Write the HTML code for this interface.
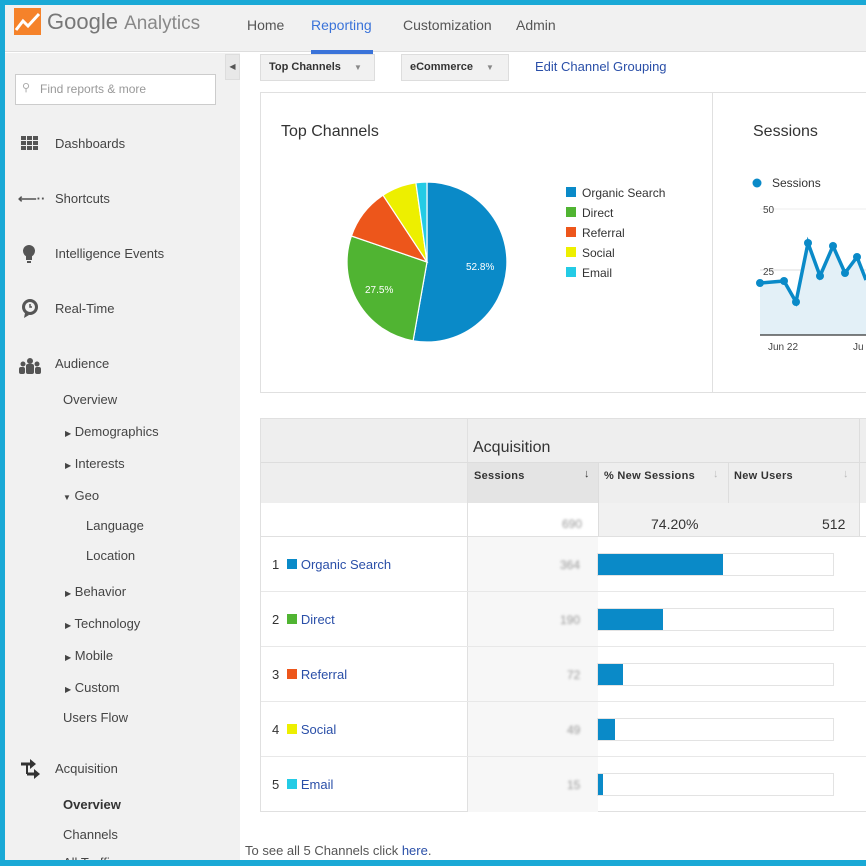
<!DOCTYPE html>
<html><head><meta charset="utf-8"><style>
*{margin:0;padding:0;box-sizing:border-box}
body{width:866px;height:866px;overflow:hidden;background:#1aa9d6;font-family:"Liberation Sans",Arial,sans-serif;position:relative}
.a{position:absolute;white-space:nowrap}
#frame{position:absolute;left:5px;top:5px;width:861px;height:855px;background:#fff;overflow:hidden}
.side{color:#444;font-size:13px}
.nav{font-size:14px;color:#555}
.lnk{color:#2a4fa8;font-size:13px}
.th{font-size:11px;font-weight:bold;color:#333;letter-spacing:.3px}
.blur{color:#999;font-size:12px;filter:blur(1.2px)}
</style></head><body>
<div id="frame">
<div class="a" style="left:0;top:0;width:861px;height:47px;background:#f1f1f1;border-bottom:1px solid #ddd"></div>
<svg class="a" style="left:9px;top:3px" width="27" height="27"><rect width="27" height="27" fill="#f5822a"/><polyline points="2,22 9,13 14,18 25,6" fill="none" stroke="#fff" stroke-width="3"/></svg>
<div class="a" style="left:42px;top:4px;font-size:22px;color:#777">Google <span style="font-size:19px;color:#888">Analytics</span></div>
<div class="a nav" style="left:242px;top:12px">Home</div>
<div class="a nav" style="left:306px;top:12px;color:#3a73d9">Reporting</div>
<div class="a" style="left:306px;top:45px;width:62px;height:4px;background:#3a73d9"></div>
<div class="a nav" style="left:398px;top:12px">Customization</div>
<div class="a nav" style="left:511px;top:12px">Admin</div>
<div class="a" style="left:0;top:48px;width:235px;height:810px;background:#f1f1f1"></div>
<div class="a" style="left:220px;top:49px;width:15px;height:26px;background:#e8e8e8;border:1px solid #ddd;font-size:8px;color:#555;text-align:center;line-height:24px">◀</div>
<div class="a" style="left:10px;top:69px;width:201px;height:31px;background:#fff;border:1px solid #ccc;font-size:12px;color:#999;line-height:29px;padding-left:24px">Find reports &amp; more</div>
<div class="a" style="left:17px;top:76px;font-size:11px;color:#aaa">⚲</div>
<svg class="a" style="left:16px;top:131px" width="17" height="15"><g fill="#555"><rect x="0" y="0" width="5" height="4"/><rect x="6" y="0" width="5" height="4"/><rect x="12" y="0" width="5" height="4"/><rect x="0" y="5" width="5" height="4"/><rect x="6" y="5" width="5" height="4"/><rect x="12" y="5" width="5" height="4"/><rect x="0" y="10" width="5" height="4"/><rect x="6" y="10" width="5" height="4"/><rect x="12" y="10" width="5" height="4"/></g></svg>
<div class="a side" style="left:50px;top:131px">Dashboards</div>
<div class="a side" style="left:13px;top:186px;font-weight:bold;color:#555">⟵··</div>
<div class="a side" style="left:50px;top:186px">Shortcuts</div>
<svg class="a" style="left:17px;top:239px" width="14" height="22"><circle cx="7" cy="7" r="6" fill="#555"/><rect x="4" y="12" width="6" height="4" fill="#555"/><rect x="5" y="17" width="4" height="2" fill="#555"/></svg>
<div class="a side" style="left:50px;top:241px">Intelligence Events</div>
<svg class="a" style="left:15px;top:293px" width="20" height="20"><circle cx="10" cy="9" r="8" fill="#555"/><circle cx="10" cy="9" r="5" fill="#f1f1f1"/><path d="M10 6v3h2" stroke="#555" fill="none" stroke-width="1.5"/><path d="M5 15l-1 5 5-3z" fill="#555"/></svg>
<div class="a side" style="left:50px;top:296px">Real-Time</div>
<svg class="a" style="left:14px;top:353px" width="22" height="16"><g fill="#555"><circle cx="11" cy="3" r="3"/><circle cx="4" cy="6" r="2.5"/><circle cx="18" cy="6" r="2.5"/><rect x="7" y="6" width="8" height="10" rx="2"/><rect x="0" y="9" width="6" height="7" rx="2"/><rect x="16" y="9" width="6" height="7" rx="2"/></g></svg>
<div class="a side" style="left:50px;top:351px">Audience</div>
<div class="a side" style="left:58px;top:387px">Overview</div>
<div class="a side" style="left:60px;top:419px"><span style="font-size:8px">▶</span> Demographics</div>
<div class="a side" style="left:60px;top:451px"><span style="font-size:8px">▶</span> Interests</div>
<div class="a side" style="left:58px;top:483px"><span style="font-size:8px">▼</span> Geo</div>
<div class="a side" style="left:81px;top:513px">Language</div>
<div class="a side" style="left:81px;top:543px">Location</div>
<div class="a side" style="left:60px;top:579px"><span style="font-size:8px">▶</span> Behavior</div>
<div class="a side" style="left:60px;top:611px"><span style="font-size:8px">▶</span> Technology</div>
<div class="a side" style="left:60px;top:643px"><span style="font-size:8px">▶</span> Mobile</div>
<div class="a side" style="left:60px;top:675px"><span style="font-size:8px">▶</span> Custom</div>
<div class="a side" style="left:58px;top:705px">Users Flow</div>
<svg class="a" style="left:14px;top:754px" width="22" height="22"><g stroke="#333" stroke-width="3" fill="#333"><line x1="2" y1="5" x2="12" y2="5"/><path d="M11 0l6 5-6 5z" stroke="none"/><line x1="8" y1="15" x2="16" y2="15"/><path d="M15 10l6 5-6 5z" stroke="none"/><line x1="8" y1="5" x2="8" y2="15" stroke-width="2"/></g></svg>
<div class="a side" style="left:50px;top:756px">Acquisition</div>
<div class="a side" style="left:58px;top:792px;font-weight:bold;color:#333">Overview</div>
<div class="a side" style="left:58px;top:822px">Channels</div>
<div class="a side" style="left:58px;top:850px">All Traffic</div>
<div class="a" style="left:255px;top:49px;width:115px;height:27px;background:#f1f1f1;border:1px solid #ddd;font-size:11px;font-weight:bold;color:#333;line-height:25px;padding-left:8px">Top Channels <span style="color:#888;font-size:8px;margin-left:10px">▼</span></div>
<div class="a" style="left:396px;top:49px;width:108px;height:27px;background:#f1f1f1;border:1px solid #ddd;font-size:11px;font-weight:bold;color:#333;line-height:25px;padding-left:8px">eCommerce <span style="color:#888;font-size:8px;margin-left:10px">▼</span></div>
<div class="a lnk" style="left:530px;top:54px">Edit Channel Grouping</div>
<div class="a" style="left:255px;top:87px;width:610px;height:301px;border:1px solid #e0e0e0"></div>
<div class="a" style="left:707px;top:87px;width:1px;height:301px;background:#e0e0e0"></div>
<div class="a" style="left:276px;top:118px;font-size:16px;color:#333">Top Channels</div>
<svg class="a" style="left:0;top:0" width="866" height="400">
<g stroke="#fff" stroke-width="1.2" transform="translate(-5,-5)">
<path d="M427,262 L427,182 A80,80 0 1,1 413.1,340.8 Z" fill="#0a8ac8"/>
<path d="M427,262 L413.1,340.8 A80,80 0 0,1 351.4,236 Z" fill="#50b432"/>
<path d="M427,262 L351.4,236 A80,80 0 0,1 383,195.2 Z" fill="#ed561b"/>
<path d="M427,262 L383,195.2 A80,80 0 0,1 415.9,182.8 Z" fill="#edef00"/>
<path d="M427,262 L415.9,182.8 A80,80 0 0,1 427,182 Z" fill="#24cbe5"/>
</g>
<text x="461" y="265" font-size="10" fill="#fff" font-family="Liberation Sans">52.8%</text>
<text x="360" y="288" font-size="10" fill="#fff" font-family="Liberation Sans">27.5%</text>
<line x1="755" y1="204" x2="861" y2="204" stroke="#eee"/>
<line x1="755" y1="265" x2="861" y2="265" stroke="#ddd"/>
<path d="M755,278 L779,276 L791,297 L803,238 L815,271 L828,241 L840,268 L852,252 L861,275 L861,330 L755,330Z" fill="#e3f0f7"/>
<polyline points="755,278 779,276 791,297 803,238 815,271 828,241 840,268 852,252 861,275" fill="none" stroke="#0a8ac8" stroke-width="3.5"/>
<g fill="#0a8ac8"><circle cx="755" cy="278" r="4"/><circle cx="779" cy="276" r="4"/><circle cx="791" cy="297" r="4"/><circle cx="803" cy="238" r="4"/><circle cx="815" cy="271" r="4"/><circle cx="828" cy="241" r="4"/><circle cx="840" cy="268" r="4"/><circle cx="852" cy="252" r="4"/><circle cx="752" cy="178" r="4.5"/></g>
<line x1="755" y1="330" x2="861" y2="330" stroke="#333" stroke-width="1.2"/>
<text x="758" y="208" font-size="10" fill="#444" font-family="Liberation Sans">50</text>
<text x="758" y="270" font-size="10" fill="#444" font-family="Liberation Sans">25</text>
<text x="763" y="345" font-size="10" fill="#444" font-family="Liberation Sans">Jun 22</text>
<text x="848" y="345" font-size="10" fill="#444" font-family="Liberation Sans">Ju</text>
</svg>
<div class="a" style="left:561px;top:178px;font-size:12px;color:#333;line-height:20px">
<div><span style="display:inline-block;width:10px;height:10px;background:#0a8ac8;margin-right:6px"></span>Organic Search</div>
<div><span style="display:inline-block;width:10px;height:10px;background:#50b432;margin-right:6px"></span>Direct</div>
<div><span style="display:inline-block;width:10px;height:10px;background:#ed561b;margin-right:6px"></span>Referral</div>
<div><span style="display:inline-block;width:10px;height:10px;background:#edef00;margin-right:6px"></span>Social</div>
<div><span style="display:inline-block;width:10px;height:10px;background:#24cbe5;margin-right:6px"></span>Email</div>
</div>
<div class="a" style="left:748px;top:118px;font-size:16px;color:#333">Sessions</div>
<div class="a" style="left:767px;top:171px;font-size:12px;color:#333">Sessions</div>
<div class="a" style="left:255px;top:413px;width:610px;height:394px;border:1px solid #e0e0e0"></div>
<div class="a" style="left:256px;top:414px;width:605px;height:84px;background:#eee"></div>
<div class="a" style="left:462px;top:414px;width:1px;height:393px;background:#e0e0e0"></div>
<div class="a" style="left:463px;top:458px;width:130px;height:40px;background:#e4e4e4"></div>
<div class="a" style="left:256px;top:457px;width:605px;height:1px;background:#ddd"></div>
<div class="a" style="left:593px;top:458px;width:1px;height:74px;background:#ddd"></div>
<div class="a" style="left:723px;top:458px;width:1px;height:74px;background:#ddd"></div>
<div class="a" style="left:854px;top:414px;width:1px;height:118px;background:#ddd"></div>
<div class="a" style="left:468px;top:434px;font-size:16px;color:#333">Acquisition</div>
<div class="a th" style="left:469px;top:465px">Sessions</div>
<div class="a" style="left:579px;top:463px;font-size:11px;color:#333">↓</div>
<div class="a th" style="left:599px;top:465px">% New Sessions</div>
<div class="a" style="left:708px;top:463px;font-size:11px;color:#bbb">↓</div>
<div class="a th" style="left:729px;top:465px">New Users</div>
<div class="a" style="left:838px;top:463px;font-size:11px;color:#bbb">↓</div>
<div class="a" style="left:594px;top:498px;width:260px;height:34px;background:#f1f1f1"></div>
<div class="a blur" style="left:557px;top:512px">690</div>
<div class="a" style="left:646px;top:511px;font-size:14px;color:#333">74.20%</div>
<div class="a" style="left:817px;top:511px;font-size:14px;color:#333">512</div>
<div class="a" style="left:463px;top:532px;width:130px;height:275px;background:#f7f7f7"></div>
<div class="a" style="left:256px;top:531px;width:605px;height:1px;background:#e0e0e0"></div>
<div class="a" style="left:256px;top:586px;width:605px;height:1px;background:#e8e8e8"></div>
<div class="a" style="left:256px;top:641px;width:605px;height:1px;background:#e8e8e8"></div>
<div class="a" style="left:256px;top:696px;width:605px;height:1px;background:#e8e8e8"></div>
<div class="a" style="left:256px;top:751px;width:605px;height:1px;background:#e8e8e8"></div>
<div class="a" style="left:267px;top:552px;font-size:13px;color:#333">1 <span style="display:inline-block;width:10px;height:10px;background:#0a8ac8;margin:0 4px"></span><span class="lnk">Organic Search</span></div>
<div class="a blur" style="left:555px;top:553px">364</div>
<div class="a" style="left:592px;top:548px;width:237px;height:23px;border:1px solid #e3e3e3"><div style="width:125px;height:21px;background:#0a8ac8"></div></div>
<div class="a" style="left:267px;top:607px;font-size:13px;color:#333">2 <span style="display:inline-block;width:10px;height:10px;background:#50b432;margin:0 4px"></span><span class="lnk">Direct</span></div>
<div class="a blur" style="left:555px;top:608px">190</div>
<div class="a" style="left:592px;top:603px;width:237px;height:23px;border:1px solid #e3e3e3"><div style="width:65px;height:21px;background:#0a8ac8"></div></div>
<div class="a" style="left:267px;top:662px;font-size:13px;color:#333">3 <span style="display:inline-block;width:10px;height:10px;background:#ed561b;margin:0 4px"></span><span class="lnk">Referral</span></div>
<div class="a blur" style="left:562px;top:663px">72</div>
<div class="a" style="left:592px;top:658px;width:237px;height:23px;border:1px solid #e3e3e3"><div style="width:25px;height:21px;background:#0a8ac8"></div></div>
<div class="a" style="left:267px;top:717px;font-size:13px;color:#333">4 <span style="display:inline-block;width:10px;height:10px;background:#edef00;margin:0 4px"></span><span class="lnk">Social</span></div>
<div class="a blur" style="left:562px;top:718px">49</div>
<div class="a" style="left:592px;top:713px;width:237px;height:23px;border:1px solid #e3e3e3"><div style="width:17px;height:21px;background:#0a8ac8"></div></div>
<div class="a" style="left:267px;top:772px;font-size:13px;color:#333">5 <span style="display:inline-block;width:10px;height:10px;background:#24cbe5;margin:0 4px"></span><span class="lnk">Email</span></div>
<div class="a blur" style="left:562px;top:773px">15</div>
<div class="a" style="left:592px;top:768px;width:237px;height:23px;border:1px solid #e3e3e3"><div style="width:5px;height:21px;background:#0a8ac8"></div></div>
<div class="a" style="left:240px;top:838px;font-size:13px;color:#555">To see all 5 Channels click <span style="color:#2a4fa8">here</span>.</div>
</div>
</body></html>
